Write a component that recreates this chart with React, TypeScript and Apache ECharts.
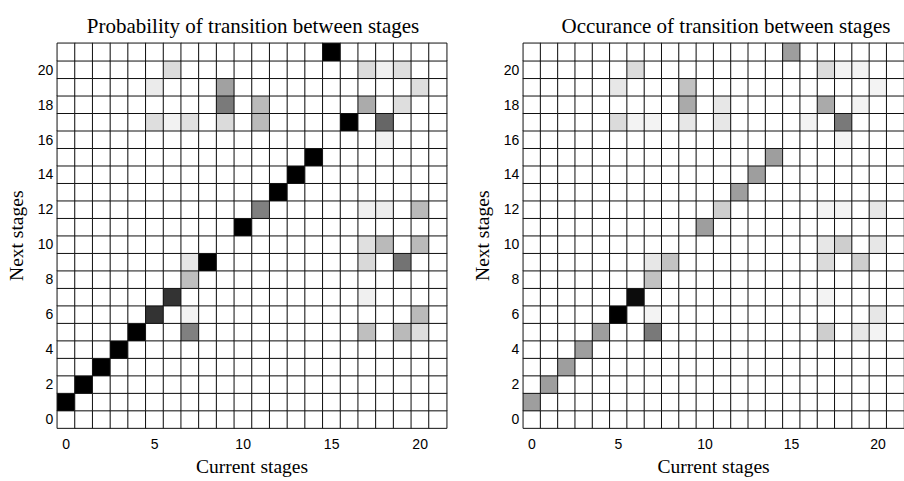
import React, { useEffect, useRef } from "react";
import * as echarts from "echarts";

const stages: string[] = Array.from({ length: 22 }, (_, i) => String(i));

// [current stage, next stage, probability]
const probCells: number[][] = [
  [0, 1, 1], [1, 2, 1], [2, 3, 1], [3, 4, 1], [4, 5, 1], [5, 6, 0.8], [6, 7, 0.8],
  [7, 5, 0.5], [7, 6, 0.05], [7, 8, 0.25], [7, 9, 0.1], [8, 9, 1], [10, 11, 1], [11, 12, 0.5],
  [12, 13, 1], [13, 14, 1], [14, 15, 1], [15, 21, 1], [16, 17, 1],
  [5, 17, 0.13], [6, 17, 0.05], [7, 17, 0.12], [9, 17, 0.14], [5, 19, 0.08], [6, 20, 0.14],
  [9, 19, 0.37], [9, 18, 0.52], [11, 18, 0.27], [11, 17, 0.27],
  [17, 18, 0.33], [18, 17, 0.6], [19, 18, 0.13], [17, 20, 0.14], [18, 20, 0.06], [19, 20, 0.13],
  [20, 19, 0.13], [18, 16, 0.06],
  [17, 12, 0.06], [18, 12, 0.07], [20, 12, 0.27],
  [17, 10, 0.12], [18, 10, 0.27], [20, 10, 0.27],
  [17, 9, 0.15], [19, 9, 0.55], [17, 7, 0.06], [20, 6, 0.27], [17, 5, 0.25], [19, 5, 0.27], [20, 5, 0.13],
];

// [current stage, next stage, occurrences]
const countCells: number[][] = [
  [0, 1, 8], [1, 2, 8], [2, 3, 8], [3, 4, 8], [4, 5, 8], [5, 6, 21], [6, 7, 20],
  [7, 5, 11], [7, 6, 1], [7, 8, 5], [7, 9, 2], [8, 9, 5], [10, 11, 8], [11, 12, 4],
  [12, 13, 8], [13, 14, 8], [14, 15, 8], [15, 21, 8], [16, 17, 1],
  [5, 17, 3], [6, 17, 1], [7, 17, 1], [9, 17, 2], [5, 19, 2], [6, 20, 3],
  [9, 19, 5], [9, 18, 7], [11, 18, 2], [11, 17, 2],
  [17, 18, 7], [18, 17, 11], [19, 18, 1], [17, 20, 3], [18, 20, 1], [19, 20, 1], [20, 19, 1], [18, 16, 1],
  [17, 12, 1], [18, 12, 1], [20, 12, 2],
  [17, 10, 2], [18, 10, 4], [20, 10, 2],
  [17, 9, 3], [19, 9, 4], [17, 7, 1], [20, 6, 2], [17, 5, 4], [19, 5, 2], [20, 5, 1],
];

const probMax = 1;
const countMax = 21;
const titles = ["Probability of transition between stages", "Occurance of transition between stages"];
const xName = "Current stages";
const yName = "Next stages";

function fullGrid(cells: number[][]): number[][] {
  const map = new Map<string, number>();
  cells.forEach(([x, y, v]) => map.set(x + "," + y, v));
  const out: number[][] = [];
  for (let x = 0; x < stages.length; x++) {
    for (let y = 0; y < stages.length; y++) {
      out.push([x, y, map.get(x + "," + y) ?? 0]);
    }
  }
  return out;
}

export default function App() {
  const ref = useRef<HTMLDivElement>(null);
  useEffect(() => {
    if (!ref.current) return;
    const chart = echarts.init(ref.current, undefined, { renderer: "svg" });
    const grids = [
      { left: 57.3, top: 43.3, width: 389.4, height: 392.7 },
      { left: 523.3, top: 43.3, width: 389.4, height: 392.7 },
    ];
    const labelFont = { fontFamily: "Liberation Sans", fontSize: 14, color: "#000" };
    const nameFont = { fontFamily: "Liberation Serif", fontSize: 19.5, color: "#000" };
    const titleFont = { fontFamily: "Liberation Serif", fontSize: 21, color: "#000", fontWeight: "normal" };
    const xAxes = grids.map((_, i) => ({
      type: "category",
      gridIndex: i,
      data: stages,
      axisTick: { show: false },
      axisLine: { show: false },
      splitLine: { show: false },
      axisLabel: { ...labelFont, interval: 4, margin: 9 },
      name: xName,
      nameLocation: "middle",
      nameGap: 27,
      nameTextStyle: nameFont,
    }));
    const yAxes = grids.map((_, i) => ({
      type: "category",
      gridIndex: i,
      data: stages,
      axisTick: { show: false },
      axisLine: { show: false },
      splitLine: { show: false },
      axisLabel: { ...labelFont, interval: 1, margin: 4 },
      name: yName,
      nameLocation: "middle",
      nameGap: 31,
      nameTextStyle: nameFont,
    }));
    chart.setOption({
      animation: false,
      backgroundColor: "#fff",
      title: [
        { text: titles[0], left: 248, top: 10, textAlign: "center", textStyle: titleFont },
        { text: titles[1], left: 721, top: 10, textAlign: "center", textStyle: titleFont },
      ],
      grid: grids,
      xAxis: xAxes,
      yAxis: yAxes,
      visualMap: [
        { show: false, seriesIndex: 0, min: 0, max: probMax, inRange: { color: ["#ffffff", "#000000"] } },
        { show: false, seriesIndex: 1, min: 0, max: countMax, inRange: { color: ["#ffffff", "#000000"] } },
      ],
      series: [
        {
          type: "heatmap",
          xAxisIndex: 0,
          yAxisIndex: 0,
          data: fullGrid(probCells),
          itemStyle: { borderColor: "#111", borderWidth: 1 },
          emphasis: { disabled: true },
        },
        {
          type: "heatmap",
          xAxisIndex: 1,
          yAxisIndex: 1,
          data: fullGrid(countCells),
          itemStyle: { borderColor: "#111", borderWidth: 1 },
          emphasis: { disabled: true },
        },
      ],
    });
    return () => chart.dispose();
  }, []);
  return (
    <div
      ref={ref}
      style={{ position: "fixed", left: 0, top: 0, width: 904, height: 481, background: "#fff" }}
    />
  );
}
